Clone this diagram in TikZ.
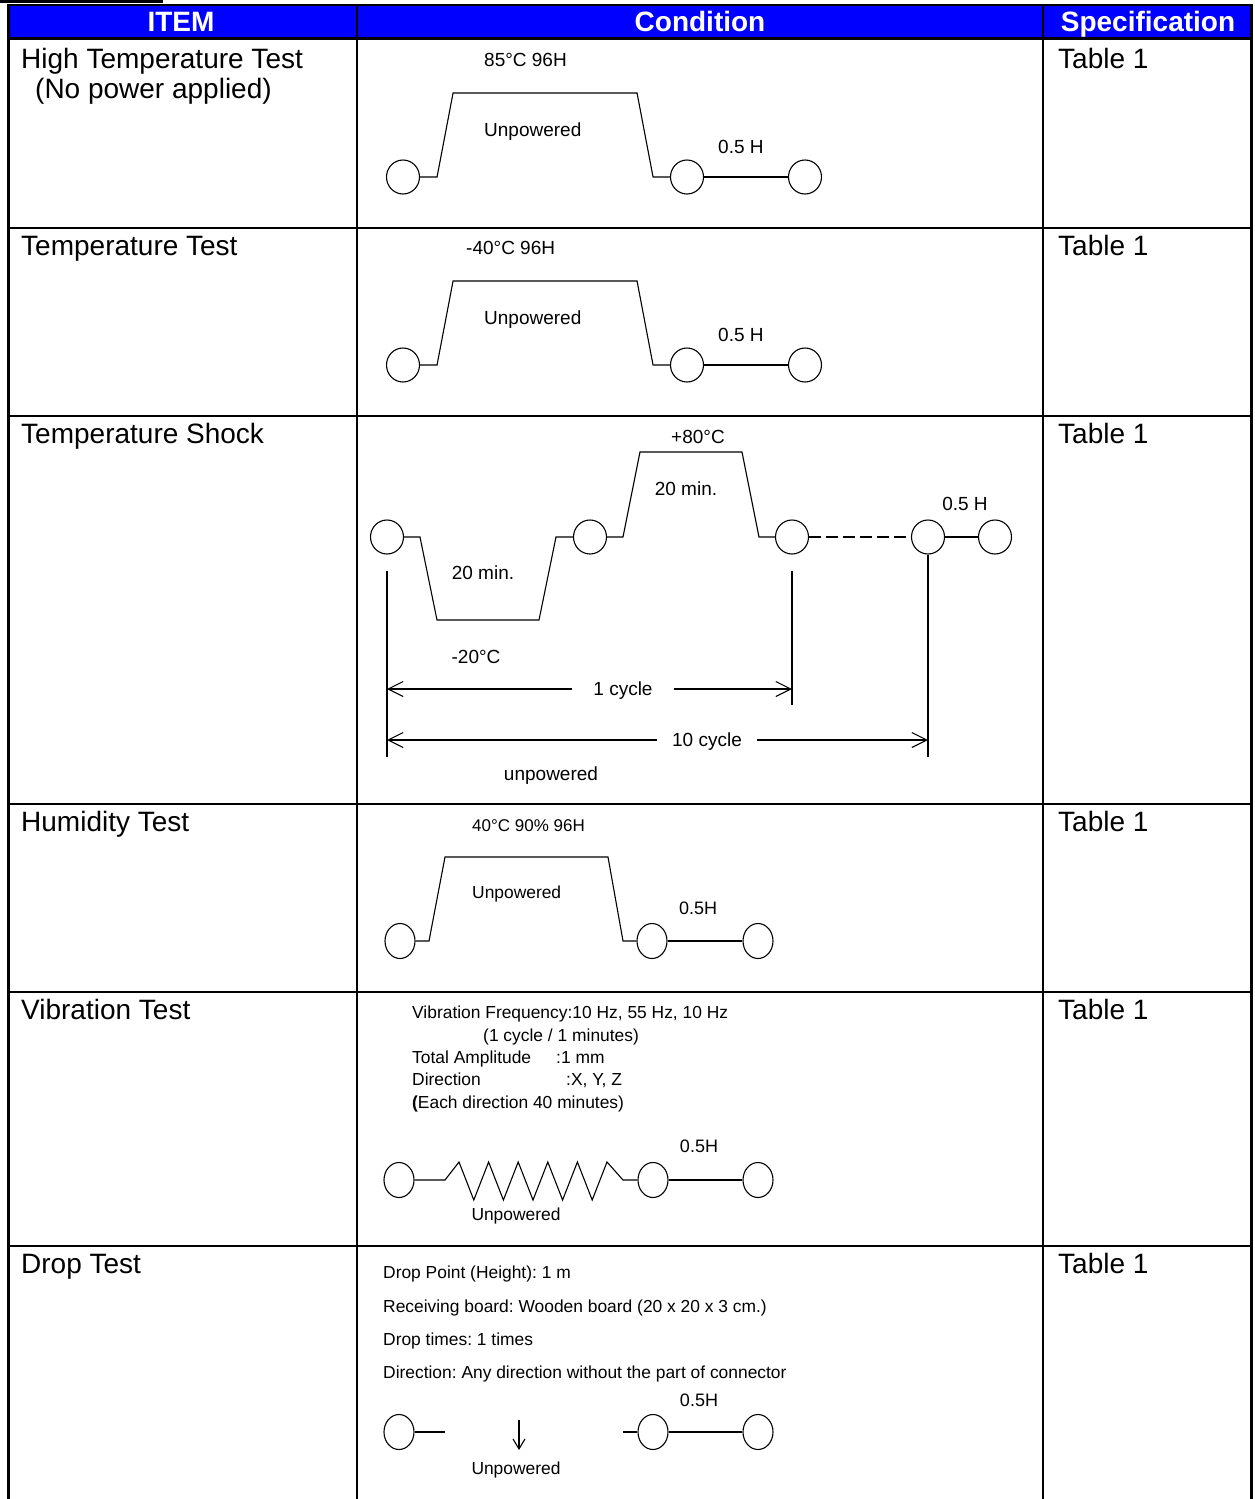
\documentclass[tikz,border=0pt]{standalone}
\usepackage{fontspec}
\setmainfont{Liberation Sans}
\usetikzlibrary{positioning, arrows.meta, shapes.geometric, calc}
\definecolor{headblue}{RGB}{0,0,255}
\frenchspacing

\begin{document}
\begin{tikzpicture}[x=1pt, y=-1pt,
    rule/.style={line width=2pt},
    frame/.style={line width=3pt},
    head/.style={font=\bfseries\fontsize{28}{30}\selectfont, text=white, inner sep=0pt, text height=20pt, text depth=0pt},
    item/.style={anchor=base west, font=\fontsize{28}{30}\selectfont, inner sep=0pt},
    ring/.style={draw, ellipse, minimum width=33pt, minimum height=34pt, inner sep=0pt, line width=1.1pt},
    small ring/.style={ring, minimum width=30pt, minimum height=35pt},
    curve/.style={line width=1.1pt},
    lbl/.style={font=\fontsize{19}{21}\selectfont, inner sep=0pt, text height=13.6pt, text depth=0pt},
    note/.style={font=\fontsize{17.4}{20}\selectfont, inner sep=0pt, text height=12.5pt, text depth=0pt, anchor=west},
    dim/.style={line width=1.1pt, -{Straight Barb[length=15pt,width=15pt]}}
]
\useasboundingbox (0,0) rectangle (1255,1499);

% Table frame
\fill (0,0) rectangle (163,2.5);
\fill[headblue] (8,5) rectangle (1251,38);
\draw[rule] (8,5) -- (1252,5);
\draw[frame] (8,38.5) -- (1252,38.5);
\draw[frame] (8,4) -- (8,1499);
\draw[frame] (1251.5,4) -- (1251.5,1499);
\draw[rule] (357,5) -- (357,1499);
\draw[rule] (1043,5) -- (1043,1499);
\foreach \y in {228,416,804,992,1246}
    \draw[rule] (8,\y) -- (1251,\y);

% Header
\node[head] (hItem) at (181,21) {ITEM};
\node[head] (hCond) at (700,21) {Condition};
\node[head] (hSpec) at (1148,21) {Specification};

% Items and specifications
\node[item] (iHigh) at (21,68) {High Temperature Test};
\node[item] (iHighSub) at (35,98) {(No power applied)};
\node[item] (iLow) at (21,255) {Temperature Test};
\node[item] (iShock) at (21,443) {Temperature Shock};
\node[item] (iHum) at (21,831) {Humidity Test};
\node[item] (iVib) at (21,1019) {Vibration Test};
\node[item] (iDrop) at (21,1273) {Drop Test};
\foreach \y/\n in {68/1,255/2,443/3,831/4,1019/5,1273/6}
    \node[item] (spec\n) at (1058,\y) {Table 1};

% High temperature test
\node[ring] (h1) at (403,177) {};
\node[ring] (h2) at (687,177) {};
\node[ring] (h3) at (805,177) {};
\draw[curve] (h1.east) -- ++(17,0) -- ++(16,-84) -- ++(184,0) -- ++(16,84) -- (h2.west);
\draw[curve] (h2) -- (h3);
\node[lbl, anchor=west] (hTemp) at (484,60) {85°C 96H};
\node[lbl, anchor=west] (hOff) at (484,130) {Unpowered};
\node[lbl, anchor=west] (hRest) at (718,147) {0.5 H};

% Low temperature test
\node[ring] (t1) at (403,365) {};
\node[ring] (t2) at (687,365) {};
\node[ring] (t3) at (805,365) {};
\draw[curve] (t1.east) -- ++(17,0) -- ++(16,-84) -- ++(184,0) -- ++(16,84) -- (t2.west);
\draw[curve] (t2) -- (t3);
\node[lbl, anchor=west] (tTemp) at (466,248) {-40°C 96H};
\node[lbl, anchor=west] (tOff) at (484,318) {Unpowered};
\node[lbl, anchor=west] (tRest) at (718,335) {0.5 H};

% Temperature shock
\node[ring] (sa) at (387,537) {};
\node[ring] (sb) at (590,537) {};
\node[ring] (sc) at (792,537) {};
\node[ring] (sd) at (928,537) {};
\node[ring] (se) at (995,537) {};
\draw[curve] (sa.east) -- (420,537) -- (437,620) -- (539,620) -- (556,537) -- (sb.west);
\draw[curve] (sb.east) -- (623,537) -- (640,452) -- (742,452) -- (759,537) -- (sc.west);
\draw[curve, dash pattern=on 12pt off 5pt] (sc.east) -- (sd.west);
\draw[curve] (sd.east) -- (se.west);
\draw[curve] ($(sa)+(0,34)$) -- ($(sa)+(0,220)$);
\draw[curve] ($(sc)+(0,34)$) -- ($(sc)+(0,168)$);
\draw[curve] (sd.south) -- ($(sd)+(0,220)$);
\node[lbl] (sHot) at (698,437) {+80°C};
\node[lbl] (sHotTime) at (686,489) {20 min.};
\node[lbl] (sRest) at (965,504) {0.5 H};
\node[lbl] (sColdTime) at (483,573) {20 min.};
\node[lbl] (sCold) at (476,657) {-20°C};
\node[lbl, inner xsep=21pt] (cyc1) at (623,689) {1 cycle};
\node[lbl, inner xsep=15pt] (cyc10) at (707,740) {10 cycle};
\draw[dim] (cyc1.west) -- (cyc1 -| sa);
\draw[dim] (cyc1.east) -- (cyc1 -| sc);
\draw[dim] (cyc10.west) -- (cyc10 -| sa);
\draw[dim] (cyc10.east) -- (cyc10 -| sd);
\node[lbl] (sOff) at (551,774) {unpowered};

% Humidity test
\node[small ring] (m1) at (400,941) {};
\node[small ring] (m2) at (652,941) {};
\node[small ring] (m3) at (758,941) {};
\draw[curve] (m1.east) -- (429,941) -- (445,857) -- (608,857) -- (623,941) -- (m2.west);
\draw[curve] (m2) -- (m3);
\node[note, font=\fontsize{17}{20}\selectfont] (mClimate) at (472,825) {40°C 90\% 96H};
\node[note] (mOff) at (472,892) {Unpowered};
\node[note, font=\fontsize{18}{20}\selectfont] (mRest) at (679,908) {0.5H};

% Vibration test
\node[note] (vFreq) at (412,1012) {Vibration Frequency:10 Hz, 55 Hz, 10 Hz};
\node[note] (vCycle) at (483,1035) {(1 cycle / 1 minutes)};
\node[note] (vAmp) at (412,1057) {Total Amplitude};
\node[note] (vAmpVal) at (556,1057) {:1 mm};
\node[note] (vDir) at (412,1079) {Direction};
\node[note] (vDirVal) at (566,1079) {:X, Y, Z};
\node[note] (vEach) at (412,1102) {\textbf{(}Each direction 40 minutes)};
\node[small ring] (v1) at (399,1180) {};
\node[small ring] (v2) at (653,1180) {};
\node[small ring] (v3) at (758,1180) {};
\draw[curve] (v1.east) -- (445,1180) -- (459,1162)
    foreach \k in {1,...,5} { -- ++(14.8,38) -- ++(14.8,-38) } -- (623,1180) -- (v2.west);
\draw[curve] (v2) -- (v3);
\node[note, font=\fontsize{18}{20}\selectfont, anchor=center] (vRest) at (699,1146) {0.5H};
\node[note, anchor=center] (vOff) at (516,1214) {Unpowered};

% Drop test
\node[note] (dPoint) at (383,1272) {Drop Point (Height): 1 m};
\node[note] (dBoard) at (383,1306) {Receiving board: Wooden board (20 x 20 x 3 cm.)};
\node[note] (dTimes) at (383,1339) {Drop times: 1 times};
\node[note] (dDir) at (383,1372) {Direction: Any direction without the part of connector};
\node[small ring] (d1) at (399,1432) {};
\node[small ring] (d2) at (653,1432) {};
\node[small ring] (d3) at (758,1432) {};
\coordinate (dOut) at (445,1432);
\coordinate (dIn) at (623,1432);
\coordinate (dTop) at (519,1420);
\coordinate (dBot) at (519,1450);
\draw[curve] (d1.east) -- (dOut);
\draw[curve] (dIn) -- (d2.west);
\draw[curve] (d2) -- (d3);
\draw[curve, -{Straight Barb[length=10pt,width=12pt]}] (dTop) -- (dBot);
\node[note, font=\fontsize{18}{20}\selectfont, anchor=center] (dRest) at (699,1400) {0.5H};
\node[note, anchor=center] (dOff) at (516,1468) {Unpowered};

\end{tikzpicture}
\end{document}
